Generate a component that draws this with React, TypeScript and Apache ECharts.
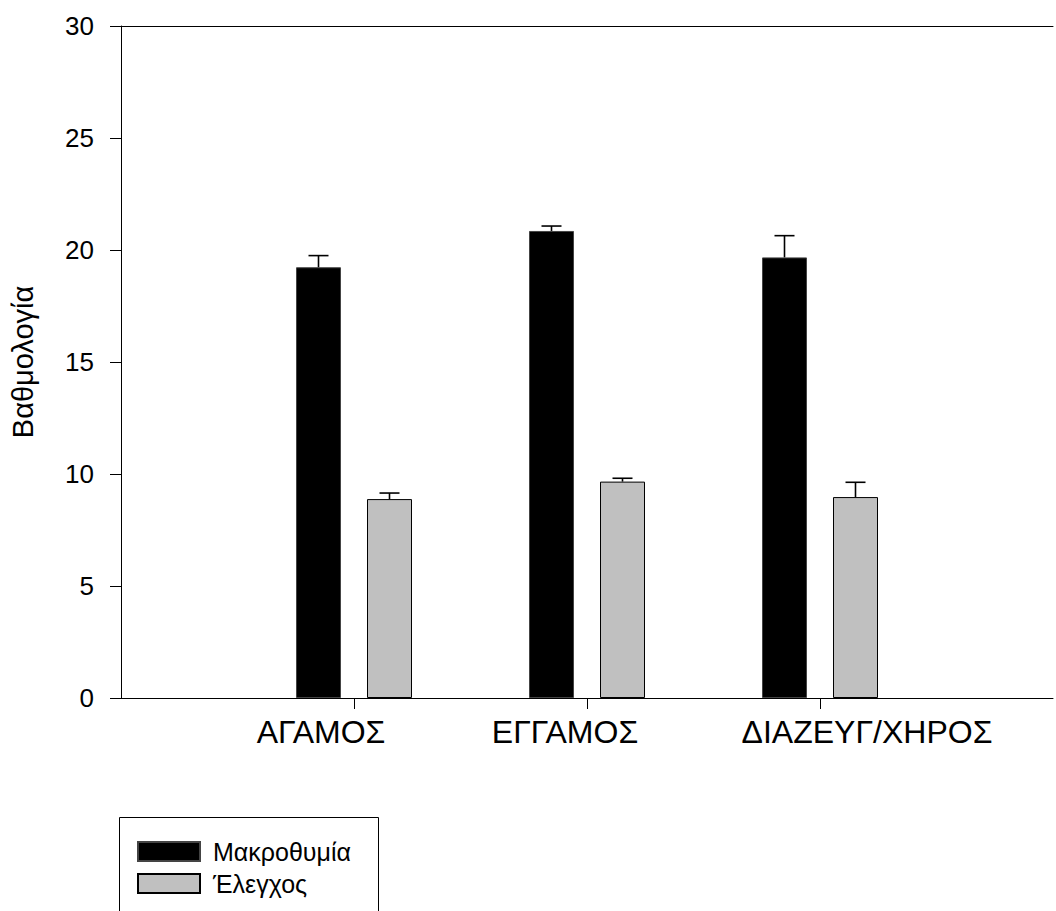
import React, { useEffect, useRef } from "react";
import * as echarts from "echarts";

// ---- data ----
const categories = ["", "ΑΓΑΜΟΣ", "ΕΓΓΑΜΟΣ", "ΔΙΑΖΕΥΓ/ΧΗΡΟΣ", ""];
const seriesNames = ["Μακροθυμία", "Έλεγχος"];
const patienceMeans = [19.23, 20.85, 19.67];
const patienceErrors = [0.52, 0.22, 0.97];
const controlMeans = [8.88, 9.66, 8.97];
const controlErrors = [0.27, 0.15, 0.66];
const yMin = 0;
const yMax = 30;
const yInterval = 5;
const yTitle = "Βαθμολογία";

// ---- style ----
const FONT = "Liberation Sans";
const BAR_W = 45;
const BAR_GAP_PX = 26;
const CAP_W = 20;
const labelShift: Record<string, number[]> = {
  "ΑΓΑΜΟΣ": [0, 66, 0, 0],
  "ΕΓΓΑΜΟΣ": [0, 44, 0, 0],
  "ΔΙΑΖΕΥΓ/ΧΗΡΟΣ": [0, 0, 0, 94],
};

function padded(values: number[]): (number | string)[] {
  return ["-", ...values, "-"];
}

function errorData(means: number[], errs: number[]) {
  return means.map((m, i) => [i + 1, m, m + errs[i]]);
}

function errorSeries(name: string, means: number[], errs: number[], sign: number) {
  const offset = sign * (BAR_W + BAR_GAP_PX) / 2;
  return {
    type: "custom",
    name: name + "-err",
    xAxisIndex: 0,
    yAxisIndex: 0,
    z: 5,
    silent: true,
    data: errorData(means, errs),
    renderItem: (params: any, api: any) => {
      const base = api.coord([api.value(0), api.value(1)]);
      const top = api.coord([api.value(0), api.value(2)]);
      const x = base[0] + offset;
      const st = { stroke: "#000", lineWidth: 1.6 };
      return {
        type: "group",
        children: [
          { type: "line", shape: { x1: x, y1: base[1], x2: x, y2: top[1] }, style: st },
          { type: "line", shape: { x1: x - CAP_W / 2, y1: top[1], x2: x + CAP_W / 2, y2: top[1] }, style: st },
        ],
      };
    },
  };
}

export default function App() {
  const ref = useRef<HTMLDivElement>(null);
  useEffect(() => {
    if (!ref.current) return;
    const chart = echarts.init(ref.current, null, { renderer: "svg" });
    const rich: Record<string, any> = {};
    categories.forEach((c, i) => {
      rich["c" + i] = {
        fontFamily: FONT,
        fontSize: 32,
        color: "#000",
        padding: labelShift[c] || [0, 0, 0, 0],
      };
    });
    chart.setOption({
      animation: false,
      backgroundColor: "#fff",
      textStyle: { fontFamily: FONT },
      grid: { left: 120, top: 26, right: -8, bottom: 213, containLabel: false },
      graphic: [
        {
          type: "rect",
          z: 0,
          left: 119,
          top: 817,
          shape: { width: 259, height: 200 },
          style: { fill: "#fff", stroke: "#000", lineWidth: 1 },
        },
      ],
      legend: {
        data: seriesNames,
        orient: "vertical",
        left: 119,
        top: 817,
        z: 10,
        padding: [22, 0, 0, 18],
        borderWidth: 0,
        itemWidth: 62,
        itemHeight: 19,
        itemGap: 7,
        icon: "rect",
        selectedMode: false,
        textStyle: { fontFamily: FONT, fontSize: 25, color: "#000", lineHeight: 19, padding: [0, 0, 0, 8] },
      },
      xAxis: [
        {
          type: "category",
          data: categories,
          boundaryGap: false,
          axisLine: { show: true, lineStyle: { color: "#000", width: 1 } },
          axisTick: {
            show: true,
            length: 11,
            inside: false,
            interval: (idx: number) => idx >= 1 && idx <= 3,
            lineStyle: { color: "#000", width: 1 },
          },
          axisLabel: {
            interval: 0,
            margin: 18,
            formatter: (v: string, i: number) => (v ? `{c${i}|${v}}` : ""),
            rich,
          },
          splitLine: { show: false },
        },
        {
          type: "category",
          data: categories,
          position: "top",
          boundaryGap: false,
          axisLine: { show: true, lineStyle: { color: "#000", width: 1 } },
          axisTick: { show: false },
          axisLabel: { show: false },
          splitLine: { show: false },
        },
      ],
      yAxis: {
        type: "value",
        min: yMin,
        max: yMax,
        interval: yInterval,
        name: yTitle,
        nameLocation: "middle",
        nameRotate: 90,
        nameGap: 84,
        nameTextStyle: { fontFamily: FONT, fontSize: 29, color: "#000" },
        axisLine: { show: true, lineStyle: { color: "#000", width: 1 } },
        axisTick: { show: true, length: 11, inside: false, lineStyle: { color: "#000", width: 1 } },
        axisLabel: { margin: 27, fontFamily: FONT, fontSize: 26, color: "#000" },
        splitLine: { show: false },
      },
      series: [
        {
          type: "bar",
          name: seriesNames[0],
          data: padded(patienceMeans),
          barWidth: BAR_W,
          barGap: (BAR_GAP_PX / BAR_W) * 100 + "%",
          itemStyle: { color: "#000", borderColor: "#444", borderWidth: 1 },
          z: 2,
        },
        {
          type: "bar",
          name: seriesNames[1],
          data: padded(controlMeans),
          barWidth: BAR_W,
          itemStyle: { color: "#c0c0c0", borderColor: "#000", borderWidth: 1 },
          z: 2,
        },
        errorSeries(seriesNames[0], patienceMeans, patienceErrors, -1),
        errorSeries(seriesNames[1], controlMeans, controlErrors, 1),
      ],
    });
    return () => chart.dispose();
  }, []);
  return (
    <div
      ref={ref}
      style={{ position: "absolute", left: 0, top: 0, width: 1056, height: 911, overflow: "hidden" }}
    />
  );
}
